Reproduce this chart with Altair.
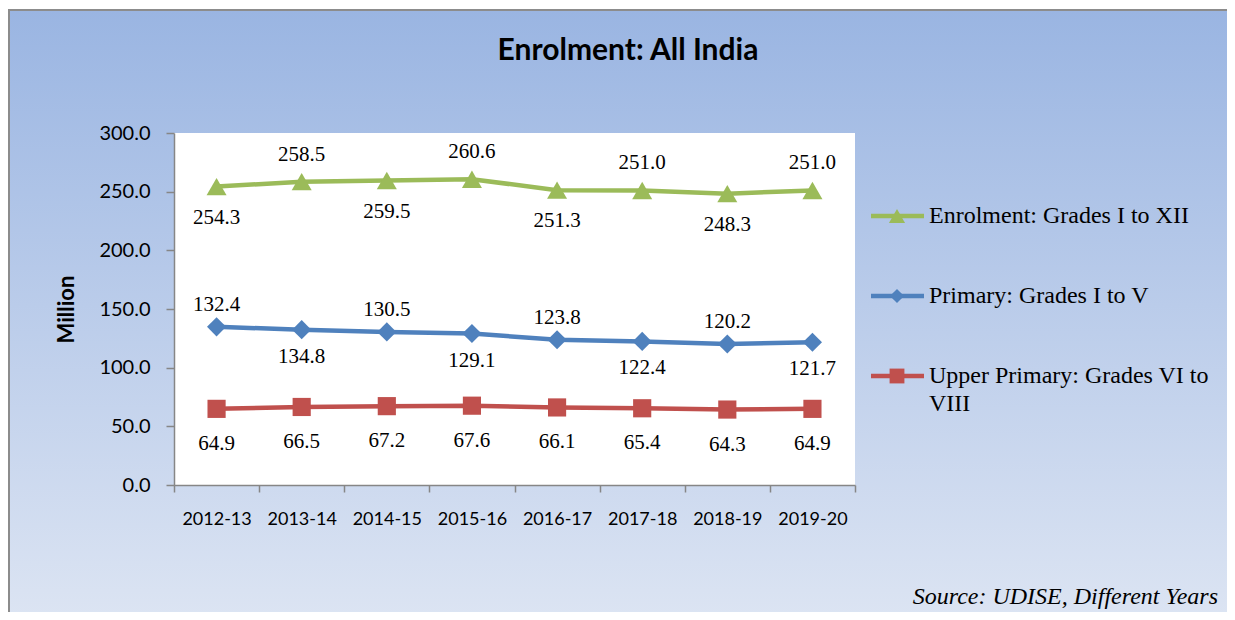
import altair as alt
import pandas as pd

# ---------------- data ----------------
years = ["2012-13", "2013-14", "2014-15", "2015-16", "2016-17", "2017-18", "2018-19", "2019-20"]
series_names = ["Enrolment: Grades I to XII", "Primary: Grades I to V", "Upper Primary: Grades VI to VIII"]
enrol_total = [254.3, 258.5, 259.5, 260.6, 251.3, 251.0, 248.3, 251.0]
enrol_primary = [134.8, 132.4, 130.5, 129.1, 123.8, 122.4, 120.2, 121.7]
primary_labels = ["132.4", "134.8", "130.5", "129.1", "123.8", "122.4", "120.2", "121.7"]
enrol_upper = [64.9, 66.5, 67.2, 67.6, 66.1, 65.4, 64.3, 64.9]
y_ticks = [0, 50, 100, 150, 200, 250, 300]
colors = ["#9BBB59", "#4F81BD", "#C0504D"]
shapes = ["triangle-up", "diamond", "square"]
legend_lines = [["Enrolment: Grades I to XII"], ["Primary: Grades I to V"], ["Upper Primary: Grades VI to", "VIII"]]

W, H = 681, 352

rows = []
for i, y in enumerate(years):
    rows.append(dict(year=y, series=series_names[0], value=enrol_total[i],
                     label=f"{enrol_total[i]:.1f}", place="below" if i % 2 == 0 else "above"))
    rows.append(dict(year=y, series=series_names[1], value=enrol_primary[i],
                     label=primary_labels[i], place="above" if i % 2 == 0 else "below"))
    rows.append(dict(year=y, series=series_names[2], value=enrol_upper[i],
                     label=f"{enrol_upper[i]:.1f}", place="below"))
df = pd.DataFrame(rows)
one = pd.DataFrame({"k": [0]})

x_enc = alt.X("year:N", sort=years,
              scale=alt.Scale(type="band", paddingInner=0, paddingOuter=0),
              axis=alt.Axis(title=None, labelAngle=0, labelFont="Lato", labelFontSize=18,
                            labelColor="black", tickBand="extent", tickSize=7,
                            tickColor="#868686", domainColor="#868686", domainWidth=1.5,
                            tickWidth=1.5, labelPadding=18, zindex=1))
y_enc = alt.Y("value:Q", scale=alt.Scale(domain=[0, 300]),
              axis=alt.Axis(values=y_ticks, format=".1f", grid=False, title="Million",
                            titleFont="Lato", titleFontSize=22, titleFontWeight="bold",
                            titleColor="black", titleX=-108, titleY=H / 2,
                            titleAlign="center", titleBaseline="middle",
                            labelFont="Lato", labelFontSize=20, labelColor="black",
                            tickSize=8, tickColor="#868686", domainColor="#868686",
                            domainWidth=1.5, tickWidth=1.5, labelPadding=16, zindex=1))
col_scale = alt.Scale(domain=series_names, range=colors)

gradient = alt.LinearGradient(
    gradient="linear", x1=0, x2=0, y1=0, y2=1,
    stops=[alt.GradientStop(color="#9AB5E2", offset=0),
           alt.GradientStop(color="#DDE5F3", offset=1)])

bg = alt.Chart(one).mark_rect(fill=gradient, stroke="#8C8C8C", strokeWidth=2).encode(
    x=alt.value(-165), x2=alt.value(1075), y=alt.value(-123), y2=alt.value(495))
plot_bg = alt.Chart(one).mark_rect(fill="white").encode(
    x=alt.value(0), x2=alt.value(W), y=alt.value(0), y2=alt.value(H))

base = alt.Chart(df).encode(x=x_enc, y=y_enc,
                            color=alt.Color("series:N", scale=col_scale, legend=None))
lines = base.mark_line(strokeWidth=4.5)
points = base.mark_point(filled=True, opacity=1).encode(
    shape=alt.Shape("series:N", scale=alt.Scale(domain=series_names, range=shapes), legend=None),
    size=alt.Size("series:N", scale=alt.Scale(domain=series_names, range=[400, 330, 340]), legend=None))

tbase = alt.Chart(df).encode(x=alt.X("year:N", sort=years), y="value:Q", text="label:N")
lab_font = dict(font="Liberation Serif", fontSize=21, color="black")
t_green_a = tbase.mark_text(dy=-27, **lab_font).transform_filter(
    (alt.datum.series == series_names[0]) & (alt.datum.place == "above"))
t_green_b = tbase.mark_text(dy=31, **lab_font).transform_filter(
    (alt.datum.series == series_names[0]) & (alt.datum.place == "below"))
t_blue_a = tbase.mark_text(dy=-22, **lab_font).transform_filter(
    (alt.datum.series == series_names[1]) & (alt.datum.place == "above"))
t_blue_b = tbase.mark_text(dy=27, **lab_font).transform_filter(
    (alt.datum.series == series_names[1]) & (alt.datum.place == "below"))
t_red = tbase.mark_text(dy=35, **lab_font).transform_filter(
    alt.datum.series == series_names[2])

title = alt.Chart(one).mark_text(text="Enrolment: All India", font="Lato", fontSize=30,
                                 fontWeight="bold", color="black", align="center",
                                 baseline="middle").encode(x=alt.value(454), y=alt.value(-82))
source = alt.Chart(one).mark_text(text="Source: UDISE, Different Years", font="Liberation Serif",
                                  fontSize=24, fontStyle="italic", color="black", align="right",
                                  baseline="middle").encode(x=alt.value(1044), y=alt.value(464))

legend_layers = []
row_y = [83, 163, 243]
for i, name in enumerate(series_names):
    legend_layers.append(alt.Chart(one).mark_rule(color=colors[i], strokeWidth=4.5).encode(
        x=alt.value(697), x2=alt.value(750), y=alt.value(row_y[i])))
    legend_layers.append(alt.Chart(one).mark_point(shape=shapes[i], filled=True, opacity=1,
                                                   color=colors[i], size=[260, 200, 220][i]).encode(
        x=alt.value(723), y=alt.value(row_y[i])))
    for j, line in enumerate(legend_lines[i]):
        legend_layers.append(alt.Chart(one).mark_text(text=line, font="Liberation Serif", fontSize=24,
                                                      color="black", align="left",
                                                      baseline="middle").encode(
            x=alt.value(755), y=alt.value(row_y[i] + 28 * j)))

chart = alt.layer(bg, plot_bg, lines, points, t_green_a, t_green_b, t_blue_a, t_blue_b, t_red,
                  title, source, *legend_layers).properties(
    width=W, height=H,
    padding={"left": 166, "top": 125, "right": 372, "bottom": 127},
    autosize=alt.AutoSizeParams(type="none"),
    background="white",
).configure_view(stroke=None)

chart.save("out.html", embed_options={"renderer": "svg", "actions": False})
